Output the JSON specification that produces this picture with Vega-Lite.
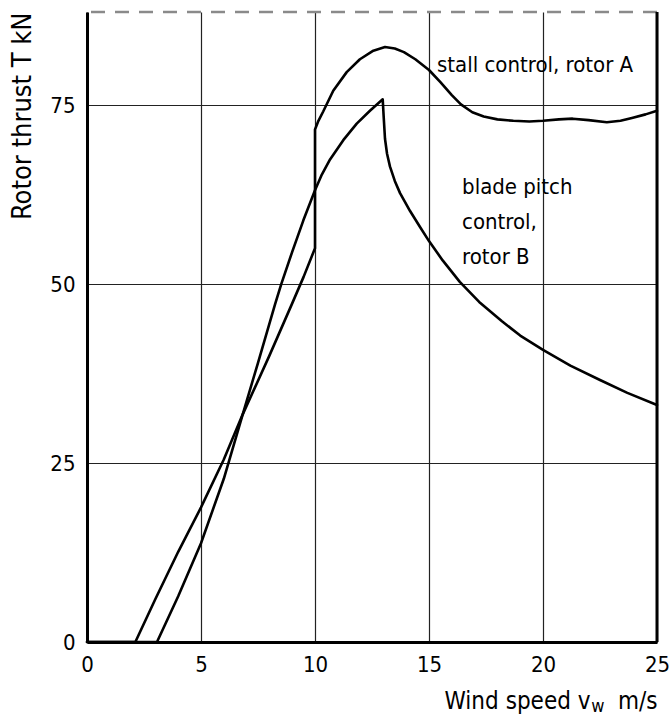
{
  "$schema": "https://vega.github.io/schema/vega-lite/v6.json",
  "autosize": {"type": "none"},
  "padding": {"left": 87, "top": 12, "right": 15, "bottom": 76},
  "width": 570,
  "height": 630,
  "config": {
    "font": "Liberation Sans Narrow, DejaVu Sans Condensed, sans-serif",
    "view": {"stroke": null},
    "axis": {
      "grid": true,
      "gridColor": "#222",
      "gridWidth": 1.2,
      "tickSize": 0,
      "domainColor": "black",
      "domainWidth": 3,
      "labelFontSize": 22,
      "labelColor": "black",
      "labelFlush": false,
      "labelOverlap": false,
      "titleFontWeight": "normal",
      "titleColor": "black",
      "titleAnchor": "end"
    }
  },
  "datasets": {
    "curves": [
      {"rotor": "A", "i": 0, "v": 0, "T": 0},
      {"rotor": "A", "i": 1, "v": 2.12, "T": 0},
      {"rotor": "A", "i": 2, "v": 3, "T": 6},
      {"rotor": "A", "i": 3, "v": 4, "T": 12.6},
      {"rotor": "A", "i": 4, "v": 5, "T": 18.8},
      {"rotor": "A", "i": 5, "v": 6, "T": 25.5},
      {"rotor": "A", "i": 6, "v": 6.83, "T": 31.8},
      {"rotor": "A", "i": 7, "v": 8, "T": 40},
      {"rotor": "A", "i": 8, "v": 9, "T": 47.3},
      {"rotor": "A", "i": 9, "v": 9.5, "T": 51},
      {"rotor": "A", "i": 10, "v": 10, "T": 55},
      {"rotor": "A", "i": 11, "v": 10, "T": 71.6},
      {"rotor": "A", "i": 12, "v": 10.15, "T": 72.8},
      {"rotor": "A", "i": 13, "v": 10.36, "T": 74.1},
      {"rotor": "A", "i": 14, "v": 10.8, "T": 77},
      {"rotor": "A", "i": 15, "v": 11.39, "T": 79.6},
      {"rotor": "A", "i": 16, "v": 11.97, "T": 81.4},
      {"rotor": "A", "i": 17, "v": 12.56, "T": 82.6},
      {"rotor": "A", "i": 18, "v": 13.07, "T": 83.1},
      {"rotor": "A", "i": 19, "v": 13.5, "T": 82.9},
      {"rotor": "A", "i": 20, "v": 13.9, "T": 82.4},
      {"rotor": "A", "i": 21, "v": 14.4, "T": 81.4},
      {"rotor": "A", "i": 22, "v": 15, "T": 79.9},
      {"rotor": "A", "i": 23, "v": 15.5, "T": 78.2},
      {"rotor": "A", "i": 24, "v": 16, "T": 76.4},
      {"rotor": "A", "i": 25, "v": 16.4, "T": 75.1},
      {"rotor": "A", "i": 26, "v": 16.9, "T": 74},
      {"rotor": "A", "i": 27, "v": 17.4, "T": 73.4},
      {"rotor": "A", "i": 28, "v": 18, "T": 73},
      {"rotor": "A", "i": 29, "v": 18.7, "T": 72.8},
      {"rotor": "A", "i": 30, "v": 19.4, "T": 72.7},
      {"rotor": "A", "i": 31, "v": 20, "T": 72.8},
      {"rotor": "A", "i": 32, "v": 20.7, "T": 73},
      {"rotor": "A", "i": 33, "v": 21.3, "T": 73.1},
      {"rotor": "A", "i": 34, "v": 22, "T": 72.9},
      {"rotor": "A", "i": 35, "v": 22.8, "T": 72.6},
      {"rotor": "A", "i": 36, "v": 23.4, "T": 72.8},
      {"rotor": "A", "i": 37, "v": 23.9, "T": 73.2},
      {"rotor": "A", "i": 38, "v": 24.5, "T": 73.7},
      {"rotor": "A", "i": 39, "v": 25, "T": 74.2},
      {"rotor": "B", "i": 0, "v": 0, "T": 0},
      {"rotor": "B", "i": 1, "v": 3.07, "T": 0},
      {"rotor": "B", "i": 2, "v": 4, "T": 6.4},
      {"rotor": "B", "i": 3, "v": 5, "T": 13.8},
      {"rotor": "B", "i": 4, "v": 6, "T": 22.8},
      {"rotor": "B", "i": 5, "v": 6.83, "T": 31.8},
      {"rotor": "B", "i": 6, "v": 7.5, "T": 39},
      {"rotor": "B", "i": 7, "v": 8.25, "T": 47.2},
      {"rotor": "B", "i": 8, "v": 8.52, "T": 50},
      {"rotor": "B", "i": 9, "v": 9, "T": 54.5},
      {"rotor": "B", "i": 10, "v": 9.49, "T": 58.9},
      {"rotor": "B", "i": 11, "v": 10, "T": 63.1},
      {"rotor": "B", "i": 12, "v": 10.3, "T": 65.3},
      {"rotor": "B", "i": 13, "v": 10.66, "T": 67.4},
      {"rotor": "B", "i": 14, "v": 11.24, "T": 70.1},
      {"rotor": "B", "i": 15, "v": 11.83, "T": 72.4},
      {"rotor": "B", "i": 16, "v": 12.41, "T": 74.2},
      {"rotor": "B", "i": 17, "v": 12.97, "T": 75.8},
      {"rotor": "B", "i": 18, "v": 13.01, "T": 73.5},
      {"rotor": "B", "i": 19, "v": 13.07, "T": 70.3},
      {"rotor": "B", "i": 20, "v": 13.16, "T": 68.2},
      {"rotor": "B", "i": 21, "v": 13.29, "T": 66.4},
      {"rotor": "B", "i": 22, "v": 13.5, "T": 64.4},
      {"rotor": "B", "i": 23, "v": 13.73, "T": 62.7},
      {"rotor": "B", "i": 24, "v": 14.17, "T": 60.2},
      {"rotor": "B", "i": 25, "v": 14.6, "T": 58},
      {"rotor": "B", "i": 26, "v": 15, "T": 56},
      {"rotor": "B", "i": 27, "v": 15.6, "T": 53.3},
      {"rotor": "B", "i": 28, "v": 16.35, "T": 50.3},
      {"rotor": "B", "i": 29, "v": 17.2, "T": 47.5},
      {"rotor": "B", "i": 30, "v": 18.2, "T": 44.8},
      {"rotor": "B", "i": 31, "v": 19, "T": 42.8},
      {"rotor": "B", "i": 32, "v": 20, "T": 40.8},
      {"rotor": "B", "i": 33, "v": 21.2, "T": 38.6},
      {"rotor": "B", "i": 34, "v": 22.5, "T": 36.6},
      {"rotor": "B", "i": 35, "v": 23.7, "T": 34.8},
      {"rotor": "B", "i": 36, "v": 25, "T": 33.1}
    ],
    "labels": [
      {"v": 15.35, "T": 80.6, "label": "stall control, rotor A"},
      {"v": 16.45, "T": 63.5, "label": "blade pitch"},
      {"v": 16.45, "T": 58.7, "label": "control,"},
      {"v": 16.45, "T": 53.8, "label": "rotor B"}
    ]
  },
  "layer": [
    {
      "data": {"name": "curves"},
      "mark": {"type": "line", "color": "black", "strokeWidth": 2.6, "strokeJoin": "round", "strokeCap": "round"},
      "encoding": {
        "x": {
          "field": "v", "type": "quantitative",
          "scale": {"domain": [0, 25], "nice": false, "zero": false},
          "axis": {"values": [0, 5, 10, 15, 20, 25], "title": "Wind speed v\u00a0\u00a0\u00a0\u00a0m/s", "titleFontSize": 24, "labelPadding": 12, "titlePadding": 14}
        },
        "y": {
          "field": "T", "type": "quantitative",
          "scale": {"domain": [0, 88], "nice": false},
          "axis": {"values": [0, 25, 50, 75], "title": "Rotor thrust T kN", "titleFontSize": 27, "labelPadding": 12, "titlePadding": 13}
        },
        "detail": {"field": "rotor"},
        "order": {"field": "i"}
      }
    },
    {
      "data": {"values": [{}]},
      "mark": {"type": "rule", "color": "#8a8a8a", "strokeDash": [14, 10], "strokeWidth": 2.5},
      "encoding": {"y": {"datum": 88}}
    },
    {
      "data": {"values": [{}]},
      "mark": {"type": "rule", "color": "black", "strokeWidth": 3},
      "encoding": {"x": {"datum": 25}}
    },
    {
      "data": {"name": "labels"},
      "mark": {"type": "text", "align": "left", "baseline": "middle", "fontSize": 22, "color": "black"},
      "encoding": {
        "x": {"field": "v", "type": "quantitative"},
        "y": {"field": "T", "type": "quantitative"},
        "text": {"field": "label"}
      }
    },
    {
      "data": {"values": [{}]},
      "mark": {"type": "text", "align": "left", "baseline": "alphabetic", "fontSize": 18, "color": "black"},
      "encoding": {"x": {"datum": 22.12}, "y": {"datum": -9.8}, "text": {"value": "w"}}
    }
  ]
}
